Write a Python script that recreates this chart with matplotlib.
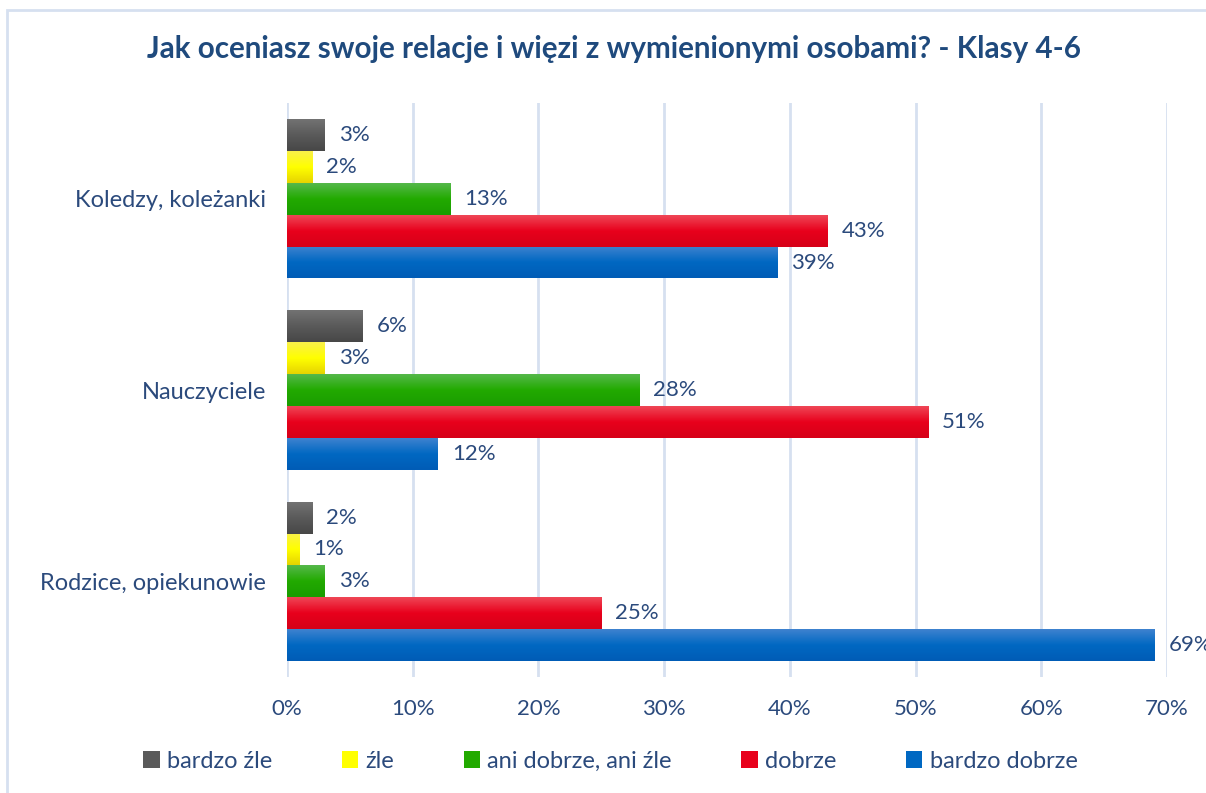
"""Oceny relacji uczniów klas 4-6 - poziomy wykres słupkowy."""
import matplotlib
matplotlib.use('Agg')
import matplotlib.pyplot as plt
import numpy as np
from matplotlib.colors import LinearSegmentedColormap
from matplotlib.patches import Rectangle

plt.rcParams['font.family'] = ['Lato', 'DejaVu Sans']

categories = ['Rodzice, opiekunowie', 'Nauczyciele', 'Koledzy, koleżanki']
series_names = ['bardzo źle', 'źle', 'ani dobrze, ani źle', 'dobrze', 'bardzo dobrze']
bardzo_zle = [2, 6, 3]
zle = [1, 3, 2]
ani = [3, 28, 13]
dobrze = [25, 51, 43]
bardzo_dobrze = [69, 12, 39]
x_ticks = [0, 10, 20, 30, 40, 50, 60, 70]

values = [bardzo_zle, zle, ani, dobrze, bardzo_dobrze]
# (top, middle, bottom) shades for the vertical gradient
shades = [
    ('#727272', '#5a5a5a', '#474747'),
    ('#f9f04a', '#ffff00', '#e6d400'),
    ('#55b84a', '#22aa00', '#1a9c00'),
    ('#ef4656', '#e8001c', '#d60018'),
    ('#3e82cf', '#0068c2', '#005cb6'),
]
text_col = '#2b4a7c'
grid_col = '#d6e0f0'

fig = plt.figure(figsize=(12.06, 7.93), dpi=100)
ax = fig.add_axes([0.238, 0.1463, 0.7297, 0.7237])

# outer frame (only top and left visible in the crop)
fig.patches.append(Rectangle((6.5 / 1206, -0.1), 1.2, 1.1 - 10.5 / 793,
                             transform=fig.transFigure, fill=False,
                             edgecolor=grid_col, linewidth=2))

h = 1 / 6
y = np.arange(len(categories))
for i, (vals, sh) in enumerate(zip(values, shades)):
    offs = y + (2 - i) * h
    bars = ax.barh(offs, vals, height=h, color=sh[1], label=series_names[i], zorder=2)
    cmap = LinearSegmentedColormap.from_list('g%d' % i, [sh[0], sh[1], sh[2]])
    grad = np.linspace(0, 1, 64).reshape(-1, 1)
    for b, v in zip(bars, vals):
        im = ax.imshow(grad, cmap=cmap, aspect='auto', zorder=3,
                       extent=[b.get_x(), b.get_x() + b.get_width(),
                               b.get_y(), b.get_y() + b.get_height()])
        im.set_clip_path(b)
        ax.text(v + 1.1, b.get_y() + h / 2, f'{v}%', va='center', ha='left',
                fontsize=16, color=text_col, zorder=4)

ax.set_xlim(0, 70)
ax.set_ylim(-0.5, 2.5)
ax.set_xticks(x_ticks)
ax.set_xticklabels([f'{t}%' for t in x_ticks])
ax.set_yticks(y)
ax.set_yticklabels(categories)
ax.tick_params(axis='both', length=0, labelsize=17, labelcolor=text_col)
ax.tick_params(axis='x', labelsize=16, pad=16)
ax.tick_params(axis='y', pad=15)
ax.grid(axis='x', color=grid_col, linewidth=2, zorder=0)
ax.set_axisbelow(True)
for s in ax.spines.values():
    s.set_visible(False)

fig.text(0.509, 0.938, 'Jak oceniasz swoje relacje i więzi z wymienionymi osobami? - Klasy 4-6',
         ha='center', va='center', fontsize=21.3, fontweight='bold', color='#1f4a7d')

handles, labels = ax.get_legend_handles_labels()
fig.legend(handles, labels, loc='center', bbox_to_anchor=(0.506, 0.04), ncol=5,
           frameon=False, fontsize=17, labelcolor=text_col, handlelength=0.7,
           handleheight=0.7, handletextpad=0.3, columnspacing=2.95)

fig.savefig('out.png', dpi=100)
plt.close(fig)
